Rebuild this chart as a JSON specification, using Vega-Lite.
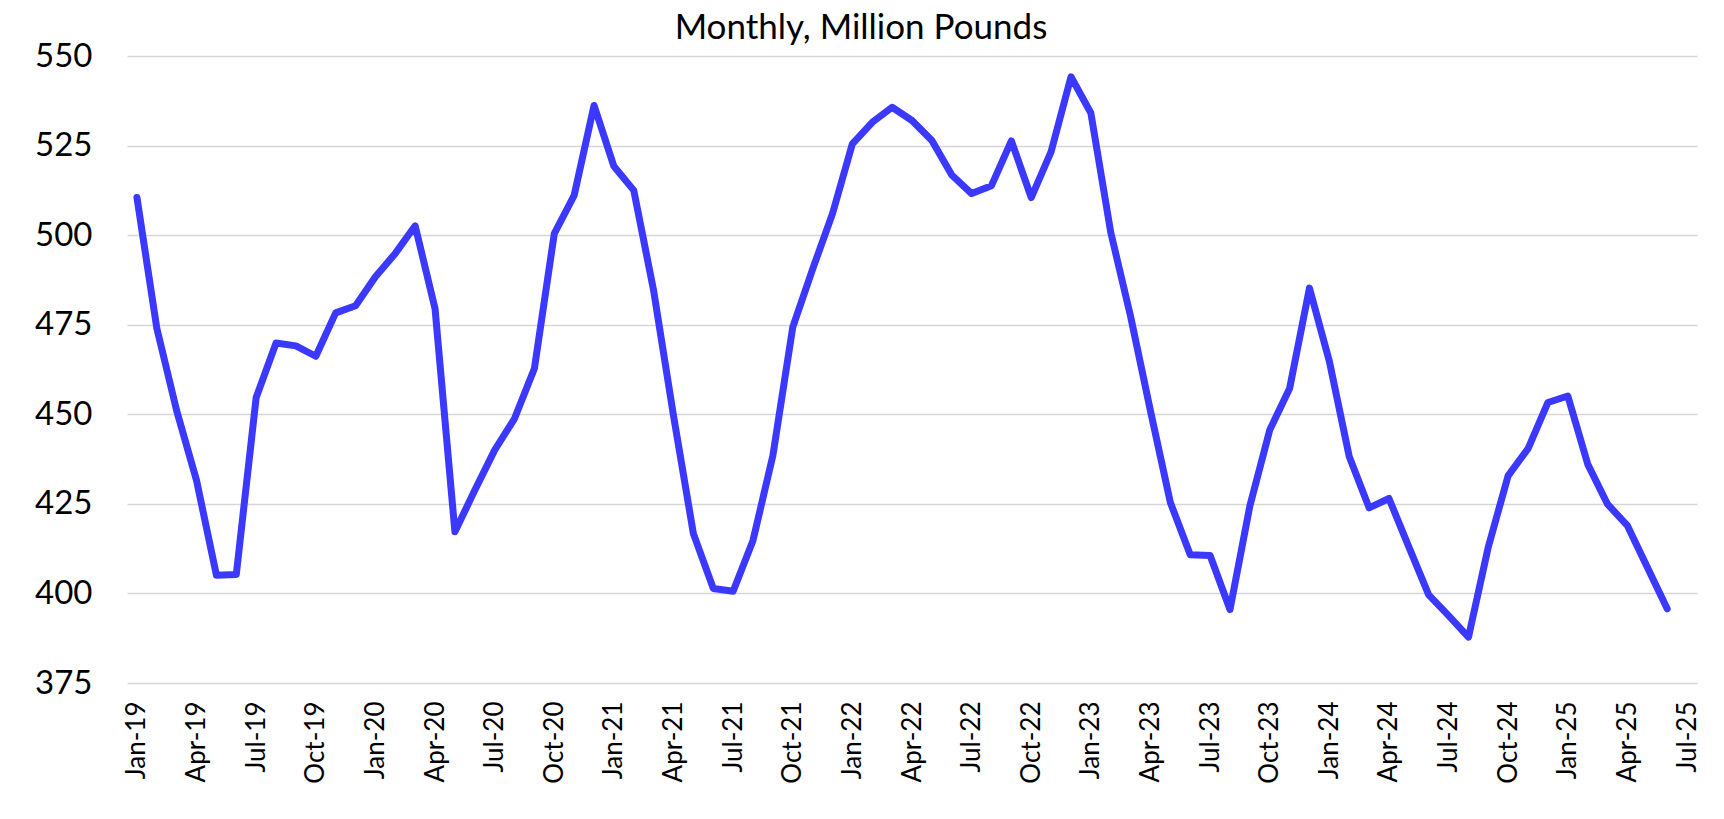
{
  "$schema": "https://vega.github.io/schema/vega-lite/v6.json",
  "width": 1570,
  "height": 627,
  "autosize": {"type": "none"},
  "padding": {"left": 127, "top": 56, "right": 27, "bottom": 136},
  "background": "white",
  "title": {
    "text": "Monthly, Million Pounds",
    "font": "Lato",
    "fontSize": 35,
    "fontWeight": "normal",
    "color": "#000000",
    "anchor": "middle",
    "frame": "group",
    "dx": -51,
    "offset": -6
  },
  "data": {
    "values": [
      {"month": "Jan-19", "value": 510.5},
      {"month": "Feb-19", "value": 474.0},
      {"month": "Mar-19", "value": 451.0},
      {"month": "Apr-19", "value": 431.5},
      {"month": "May-19", "value": 405.1},
      {"month": "Jun-19", "value": 405.3},
      {"month": "Jul-19", "value": 454.7},
      {"month": "Aug-19", "value": 469.9},
      {"month": "Sep-19", "value": 469.1},
      {"month": "Oct-19", "value": 466.2},
      {"month": "Nov-19", "value": 478.3},
      {"month": "Dec-19", "value": 480.3},
      {"month": "Jan-20", "value": 488.4},
      {"month": "Feb-20", "value": 494.9},
      {"month": "Mar-20", "value": 502.6},
      {"month": "Apr-20", "value": 479.5},
      {"month": "May-20", "value": 417.2},
      {"month": "Jun-20", "value": 428.8},
      {"month": "Jul-20", "value": 440.0},
      {"month": "Aug-20", "value": 448.8},
      {"month": "Sep-20", "value": 462.8},
      {"month": "Oct-20", "value": 500.4},
      {"month": "Nov-20", "value": 511.1},
      {"month": "Dec-20", "value": 536.2},
      {"month": "Jan-21", "value": 519.2},
      {"month": "Feb-21", "value": 512.5},
      {"month": "Mar-21", "value": 484.5},
      {"month": "Apr-21", "value": 449.6},
      {"month": "May-21", "value": 416.7},
      {"month": "Jun-21", "value": 401.4},
      {"month": "Jul-21", "value": 400.6},
      {"month": "Aug-21", "value": 414.8},
      {"month": "Sep-21", "value": 438.5},
      {"month": "Oct-21", "value": 474.3},
      {"month": "Nov-21", "value": 490.5},
      {"month": "Dec-21", "value": 506.0},
      {"month": "Jan-22", "value": 525.5},
      {"month": "Feb-22", "value": 531.5},
      {"month": "Mar-22", "value": 535.7},
      {"month": "Apr-22", "value": 532.0},
      {"month": "May-22", "value": 526.4},
      {"month": "Jun-22", "value": 516.8},
      {"month": "Jul-22", "value": 511.6},
      {"month": "Aug-22", "value": 513.8},
      {"month": "Sep-22", "value": 526.3},
      {"month": "Oct-22", "value": 510.5},
      {"month": "Nov-22", "value": 523.3},
      {"month": "Dec-22", "value": 544.2},
      {"month": "Jan-23", "value": 534.1},
      {"month": "Feb-23", "value": 500.8},
      {"month": "Mar-23", "value": 477.3},
      {"month": "Apr-23", "value": 450.9},
      {"month": "May-23", "value": 425.4},
      {"month": "Jun-23", "value": 410.8},
      {"month": "Jul-23", "value": 410.6},
      {"month": "Aug-23", "value": 395.5},
      {"month": "Sep-23", "value": 424.4},
      {"month": "Oct-23", "value": 445.6},
      {"month": "Nov-23", "value": 457.2},
      {"month": "Dec-23", "value": 485.2},
      {"month": "Jan-24", "value": 464.8},
      {"month": "Feb-24", "value": 438.2},
      {"month": "Mar-24", "value": 423.9},
      {"month": "Apr-24", "value": 426.5},
      {"month": "May-24", "value": 413.0},
      {"month": "Jun-24", "value": 399.6},
      {"month": "Jul-24", "value": 393.8},
      {"month": "Aug-24", "value": 387.8},
      {"month": "Sep-24", "value": 413.0},
      {"month": "Oct-24", "value": 432.9},
      {"month": "Nov-24", "value": 440.4},
      {"month": "Dec-24", "value": 453.3},
      {"month": "Jan-25", "value": 455.1},
      {"month": "Feb-25", "value": 436.1},
      {"month": "Mar-25", "value": 424.9},
      {"month": "Apr-25", "value": 418.9},
      {"month": "May-25", "value": 407.3},
      {"month": "Jun-25", "value": 395.7}
    ]
  },
  "mark": {
    "type": "line",
    "color": "#3b38ff",
    "strokeWidth": 7,
    "strokeCap": "round",
    "strokeJoin": "round"
  },
  "encoding": {
    "x": {
      "field": "month",
      "type": "ordinal",
      "title": null,
      "sort": null,
      "scale": {
        "type": "point",
        "padding": 0.5,
        "domain": [
          "Jan-19", "Feb-19", "Mar-19", "Apr-19", "May-19", "Jun-19", "Jul-19", "Aug-19", "Sep-19", "Oct-19", "Nov-19", "Dec-19",
          "Jan-20", "Feb-20", "Mar-20", "Apr-20", "May-20", "Jun-20", "Jul-20", "Aug-20", "Sep-20", "Oct-20", "Nov-20", "Dec-20",
          "Jan-21", "Feb-21", "Mar-21", "Apr-21", "May-21", "Jun-21", "Jul-21", "Aug-21", "Sep-21", "Oct-21", "Nov-21", "Dec-21",
          "Jan-22", "Feb-22", "Mar-22", "Apr-22", "May-22", "Jun-22", "Jul-22", "Aug-22", "Sep-22", "Oct-22", "Nov-22", "Dec-22",
          "Jan-23", "Feb-23", "Mar-23", "Apr-23", "May-23", "Jun-23", "Jul-23", "Aug-23", "Sep-23", "Oct-23", "Nov-23", "Dec-23",
          "Jan-24", "Feb-24", "Mar-24", "Apr-24", "May-24", "Jun-24", "Jul-24", "Aug-24", "Sep-24", "Oct-24", "Nov-24", "Dec-24",
          "Jan-25", "Feb-25", "Mar-25", "Apr-25", "May-25", "Jun-25", "Jul-25"
        ]
      },
      "axis": {
        "values": [
          "Jan-19", "Apr-19", "Jul-19", "Oct-19", "Jan-20", "Apr-20", "Jul-20", "Oct-20",
          "Jan-21", "Apr-21", "Jul-21", "Oct-21", "Jan-22", "Apr-22", "Jul-22", "Oct-22",
          "Jan-23", "Apr-23", "Jul-23", "Oct-23", "Jan-24", "Apr-24", "Jul-24", "Oct-24",
          "Jan-25", "Apr-25", "Jul-25"
        ],
        "labelAngle": -90,
        "labelFont": "Lato",
        "labelFontSize": 26,
        "labelColor": "#000000",
        "labelPadding": 18,
        "labelOverlap": false,
        "ticks": false,
        "domain": false,
        "grid": false
      }
    },
    "y": {
      "field": "value",
      "type": "quantitative",
      "title": null,
      "scale": {"domain": [375, 550], "nice": false, "zero": false},
      "axis": {
        "values": [375, 400, 425, 450, 475, 500, 525, 550],
        "labelFont": "Lato",
        "labelFontSize": 33,
        "labelColor": "#000000",
        "labelPadding": 35,
        "ticks": false,
        "domain": false,
        "grid": true,
        "gridColor": "#d6d6d6",
        "gridWidth": 1.6
      }
    }
  },
  "config": {
    "view": {"stroke": null}
  }
}
